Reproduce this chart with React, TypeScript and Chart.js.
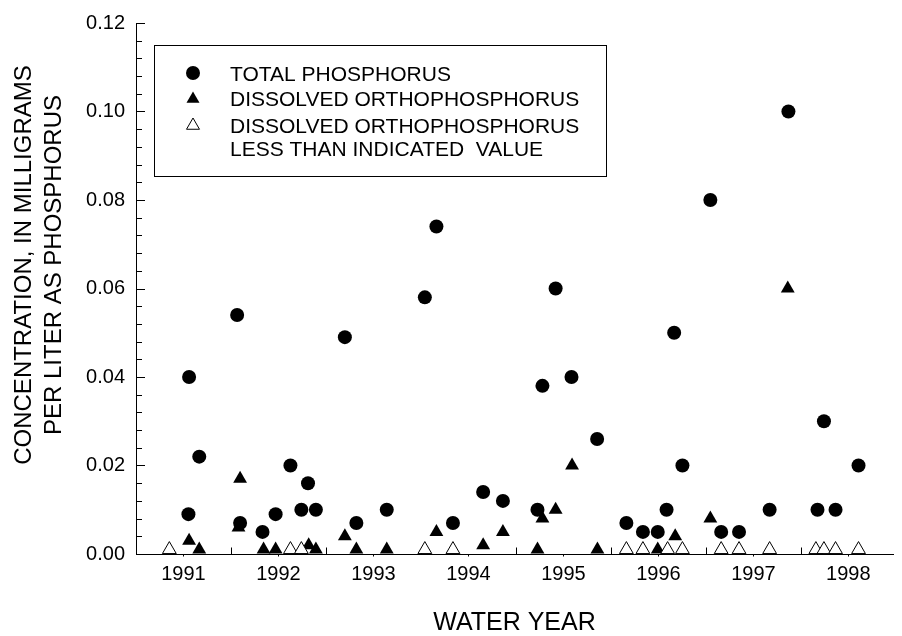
import React, { useEffect, useRef } from 'react';
import { Chart, registerables } from 'chart.js';

Chart.register(...registerables);

const FONT = "'Liberation Sans', Arial, Helvetica, sans-serif";

// Axis layout values (water years: Oct 1 – Sep 30)
const YEAR_LABELS = ['1991', '1992', '1993', '1994', '1995', '1996', '1997', '1998'];
const YEAR_LABEL_POSITIONS = [1991.25, 1992.25, 1993.25, 1994.25, 1995.25, 1996.25, 1997.25, 1998.25];
const WATER_YEAR_STARTS = [1991.75, 1992.75, 1993.75, 1994.75, 1995.75, 1996.75, 1997.75];
const X_MIN = 1990.75;
const X_MAX = 1998.72;
const Y_MIN = 0;
const Y_MAX = 0.12;
const Y_MAJOR_STEP = 0.02;
const Y_MINOR_STEP = 0.004;

const X_TITLE = 'WATER YEAR';
const Y_TITLE = ['CONCENTRATION, IN MILLIGRAMS', 'PER LITER AS PHOSPHORUS'];
const LEGEND_LABELS = [
  'TOTAL PHOSPHORUS',
  'DISSOLVED ORTHOPHOSPHORUS',
  'DISSOLVED ORTHOPHOSPHORUS',
  'LESS THAN INDICATED  VALUE',
];

// Total phosphorus
const TP_DATES = [
  1991.302, 1991.309, 1991.416, 1991.815, 1991.846, 1992.082, 1992.22, 1992.376, 1992.491, 1992.561,
  1992.644, 1992.949, 1993.07, 1993.39, 1993.791, 1993.913, 1994.087, 1994.405, 1994.613, 1994.977,
  1995.029, 1995.168, 1995.335, 1995.605, 1995.913, 1996.087, 1996.243, 1996.336, 1996.416, 1996.503,
  1996.797, 1996.911, 1997.099, 1997.421, 1997.619, 1997.925, 1997.993, 1998.115, 1998.357,
];
const TP_VALUES = [
  0.009, 0.04, 0.022, 0.054, 0.007, 0.005, 0.009, 0.02, 0.01, 0.016,
  0.01, 0.049, 0.007, 0.01, 0.058, 0.074, 0.007, 0.014, 0.012, 0.01,
  0.038, 0.06, 0.04, 0.026, 0.007, 0.005, 0.005, 0.01, 0.05, 0.02,
  0.08, 0.005, 0.005, 0.01, 0.1, 0.01, 0.03, 0.01, 0.02,
];

// Dissolved orthophosphorus
const DOP_DATES = [
  1991.309, 1991.416, 1991.846, 1991.829, 1992.093, 1992.22, 1992.568, 1992.644, 1992.949, 1993.07,
  1993.39, 1993.913, 1994.405, 1994.613, 1994.977, 1995.029, 1995.168, 1995.341, 1995.608, 1996.243,
  1996.427, 1996.797, 1997.612,
];
const DOP_VALUES = [
  0.003, 0.001, 0.017, 0.006, 0.001, 0.001, 0.002, 0.001, 0.004, 0.001,
  0.001, 0.005, 0.002, 0.005, 0.001, 0.008, 0.01, 0.02, 0.001, 0.001,
  0.004, 0.008, 0.06,
];

// Dissolved orthophosphorus, less than indicated value
const DOP_LT_DATES = [
  1991.101, 1992.376, 1992.491, 1993.791, 1994.087, 1995.913, 1996.087, 1996.347, 1996.503, 1996.911,
  1997.099, 1997.421, 1997.908, 1997.993, 1998.115, 1998.357,
];
const DOP_LT_VALUES = [
  0.001, 0.001, 0.001, 0.001, 0.001, 0.001, 0.001, 0.001, 0.001, 0.001,
  0.001, 0.001, 0.001, 0.001, 0.001, 0.001,
];

function toPoints(xs: number[], ys: number[]) {
  return xs.map((x, i) => ({ x, y: ys[i] }));
}

function triPath(ctx: CanvasRenderingContext2D, cx: number, cy: number, r: number) {
  // same geometry as Chart.js 'triangle' point style
  let rad = 0;
  ctx.beginPath();
  ctx.moveTo(cx + Math.sin(rad) * r, cy - Math.cos(rad) * r);
  rad += (2 * Math.PI) / 3;
  ctx.lineTo(cx + Math.sin(rad) * r, cy - Math.cos(rad) * r);
  rad += (2 * Math.PI) / 3;
  ctx.lineTo(cx + Math.sin(rad) * r, cy - Math.cos(rad) * r);
  ctx.closePath();
}

const decorPlugin = {
  id: 'decor',
  beforeDatasetsDraw(chart: any) {
    const { ctx, chartArea } = chart;
    const xs = chart.scales.x;
    const ys = chart.scales.y;
    const left = Math.round(chartArea.left);
    const bottom = Math.round(chartArea.bottom) + 0.5;
    ctx.save();
    ctx.strokeStyle = '#000';
    ctx.lineWidth = 1;
    ctx.beginPath();
    const n = Math.round((Y_MAX - Y_MIN) / Y_MINOR_STEP);
    const perMajor = Math.round(Y_MAJOR_STEP / Y_MINOR_STEP);
    for (let i = 0; i <= n; i++) {
      const v = Y_MIN + i * Y_MINOR_STEP;
      const py = Math.round(ys.getPixelForValue(v)) + 0.5;
      const len = i % perMajor === 0 ? 9 : 6;
      ctx.moveTo(left, py);
      ctx.lineTo(left + len, py);
    }
    WATER_YEAR_STARTS.forEach((v) => {
      const px = Math.round(xs.getPixelForValue(v)) + 0.5;
      ctx.moveTo(px, bottom);
      ctx.lineTo(px, bottom - 7);
    });
    YEAR_LABEL_POSITIONS.forEach((v) => {
      const px = Math.round(xs.getPixelForValue(v)) + 0.5;
      ctx.moveTo(px, bottom);
      ctx.lineTo(px, bottom + 2);
    });
    ctx.stroke();
    ctx.restore();
  },
  afterDraw(chart: any) {
    const { ctx, chartArea } = chart;
    ctx.save();
    ctx.fillStyle = '#000';
    ctx.strokeStyle = '#000';
    ctx.lineWidth = 1;

    // legend box
    ctx.strokeRect(154.5, 45.5, 452, 131);
    const sx = 193;
    ctx.beginPath();
    ctx.arc(sx, 73, 7, 0, Math.PI * 2);
    ctx.fill();
    triPath(ctx, sx, 99, 7.5);
    ctx.fill();
    triPath(ctx, sx, 125.5, 7.5);
    ctx.fillStyle = '#fff';
    ctx.fill();
    ctx.stroke();
    ctx.fillStyle = '#000';
    ctx.font = `21px ${FONT}`;
    ctx.textAlign = 'left';
    ctx.textBaseline = 'alphabetic';
    const baselines = [80.5, 106, 132.5, 156];
    LEGEND_LABELS.forEach((t, i) => ctx.fillText(t, 230, baselines[i]));

    // x title
    ctx.font = `25px ${FONT}`;
    ctx.textAlign = 'center';
    ctx.fillText(X_TITLE, (chartArea.left + chartArea.right) / 2, 630);

    // y title
    ctx.font = `24px ${FONT}`;
    ctx.textBaseline = 'middle';
    const centers = [24, 54];
    Y_TITLE.forEach((t, i) => {
      ctx.save();
      ctx.translate(centers[i], 265);
      ctx.rotate(-Math.PI / 2);
      ctx.fillText(t, 0, 0);
      ctx.restore();
    });
    ctx.restore();
  },
};

export default function App() {
  const ref = useRef<HTMLCanvasElement>(null);
  useEffect(() => {
    const canvas = ref.current;
    if (!canvas) return;
    const chart = new Chart(canvas, {
      type: 'scatter',
      data: {
        datasets: [
          {
            label: 'DISSOLVED ORTHOPHOSPHORUS LESS THAN INDICATED VALUE',
            data: toPoints(DOP_LT_DATES, DOP_LT_VALUES),
            pointStyle: 'triangle',
            pointRadius: 8,
            pointBackgroundColor: '#fff',
            pointBorderColor: '#000',
            pointBorderWidth: 1,
            backgroundColor: '#fff',
            borderColor: '#000',
            order: 0,
          },
          {
            label: 'DISSOLVED ORTHOPHOSPHORUS',
            data: toPoints(DOP_DATES, DOP_VALUES),
            pointStyle: 'triangle',
            pointRadius: 8,
            pointBackgroundColor: '#000',
            pointBorderColor: '#000',
            pointBorderWidth: 0,
            backgroundColor: '#000',
            borderColor: '#000',
            order: 1,
          },
          {
            label: 'TOTAL PHOSPHORUS',
            data: toPoints(TP_DATES, TP_VALUES),
            pointStyle: 'circle',
            pointRadius: 7,
            pointBackgroundColor: '#000',
            pointBorderColor: '#000',
            pointBorderWidth: 0,
            backgroundColor: '#000',
            borderColor: '#000',
            order: 2,
          },
        ],
      },
      options: {
        responsive: false,
        animation: false,
        devicePixelRatio: 1,
        events: [],
        layout: { padding: { top: 16, right: 0, bottom: 0, left: 0 } },
        plugins: {
          legend: { display: false },
          tooltip: { enabled: false },
          title: { display: false },
        },
        scales: {
          x: {
            type: 'linear',
            min: X_MIN,
            max: X_MAX,
            grid: { display: false, drawTicks: false },
            border: { display: true, color: '#000', width: 1 },
            afterBuildTicks: (s: any) => {
              s.ticks = YEAR_LABEL_POSITIONS.map((v) => ({ value: v }));
            },
            afterFit: (s: any) => {
              s.height = 82;
            },
            ticks: {
              autoSkip: false,
              maxRotation: 0,
              minRotation: 0,
              padding: 8,
              color: '#000',
              font: { family: FONT, size: 20 },
              callback: (_v: any, i: number) => YEAR_LABELS[i],
            },
          },
          y: {
            type: 'linear',
            min: Y_MIN,
            max: Y_MAX,
            grid: { display: false, drawTicks: false },
            border: { display: true, color: '#000', width: 1 },
            afterFit: (s: any) => {
              s.width = 136;
            },
            ticks: {
              stepSize: Y_MAJOR_STEP,
              padding: 11,
              color: '#000',
              font: { family: FONT, size: 20 },
              callback: (v: any) => Number(v).toFixed(2),
            },
          },
        },
      },
      plugins: [decorPlugin],
    } as any);
    return () => chart.destroy();
  }, []);
  return (
    <div style={{ position: 'absolute', left: 0, top: 0, width: 902, height: 636, background: '#fff' }}>
      <canvas ref={ref} width={902} height={636} style={{ display: 'block', width: 902, height: 636 }} />
    </div>
  );
}
